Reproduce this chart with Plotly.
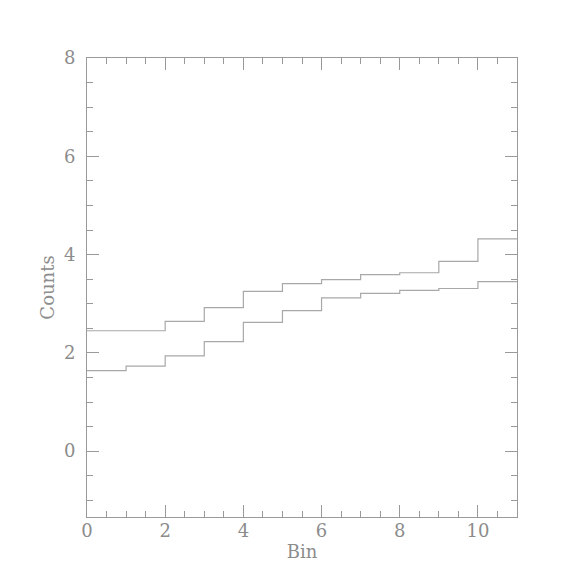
import plotly.graph_objects as go

# bin edges 0..11 and the two step histograms
bin_edges = list(range(12))
upper_counts = [2.45, 2.45, 2.64, 2.92, 3.25, 3.41, 3.49, 3.59, 3.63, 3.86, 4.32]
lower_counts = [1.64, 1.73, 1.94, 2.23, 2.62, 2.86, 3.12, 3.21, 3.27, 3.31, 3.45]

x_ticks = [0, 2, 4, 6, 8, 10]
y_ticks = [0, 2, 4, 6, 8]

line_col = "#a8a8a8"
axis_col = "#9a9a9a"
font = dict(family="DejaVu Serif", size=18, color="#8c8c8c", weight=300)


def step_trace(counts):
    # repeat last value so the final bin is drawn to its right edge
    return go.Scatter(x=bin_edges, y=counts + [counts[-1]], mode="lines",
                      line=dict(shape="hv", color=line_col, width=1.2),
                      showlegend=False, hoverinfo="skip")


fig = go.Figure([step_trace(upper_counts), step_trace(lower_counts)])

axis_common = dict(showgrid=False, zeroline=False, showline=True, linecolor=axis_col,
                   linewidth=1, mirror="ticks", ticks="inside", ticklen=12,
                   tickcolor=axis_col, tickfont=font)

fig.update_xaxes(range=[0, 11], tickvals=x_ticks, ticklabelstandoff=-3,
                 title=dict(text="Bin", font=font, standoff=1),
                 minor=dict(dtick=0.5, ticks="inside", ticklen=6, tickcolor=axis_col),
                 **axis_common)
fig.update_yaxes(range=[-1.34, 8], tickvals=y_ticks, ticklabelstandoff=7,
                 title=dict(text="Counts", font=font, standoff=4),
                 minor=dict(dtick=0.5, ticks="inside", ticklen=6, tickcolor=axis_col),
                 **axis_common)

# the page body adds 8px, so margins are offset to land the frame at 87..517
fig.update_layout(width=574, height=574, plot_bgcolor="white", paper_bgcolor="white",
                  margin=dict(l=79, r=65, t=50, b=65, autoexpand=False), font=font)

fig.write_html("out.html")
